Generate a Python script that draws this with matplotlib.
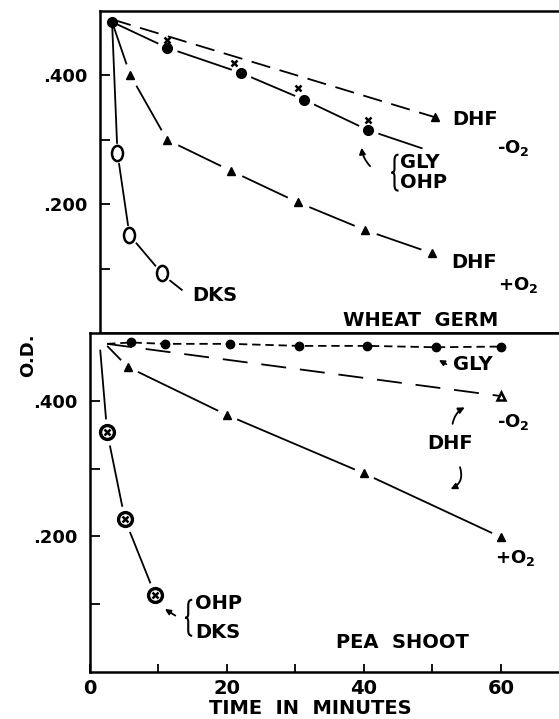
import matplotlib
matplotlib.use("Agg")
import matplotlib.pyplot as plt
import matplotlib.transforms as mtransforms
from matplotlib.path import Path
from matplotlib.patches import FancyArrowPatch, PathPatch

plt.rcParams['font.family'] = 'DejaVu Sans'
plt.rcParams['font.weight'] = 'bold'
plt.rcParams['lines.scale_dashes'] = False

# wheat germ (top panel)
wg_dhf_minus_t = [1.8, 50]
wg_dhf_minus_od = [0.487, 0.335]
wg_gly_t = [10, 20, 29.5, 40]
wg_gly_od = [0.455, 0.419, 0.380, 0.331]
wg_ohp_t = [1.8, 10, 21, 30.5, 40, 48]
wg_ohp_od = [0.483, 0.443, 0.404, 0.362, 0.315, 0.287]
wg_dhf_plus_t = [1.8, 4.5, 10, 19.5, 29.5, 39.5, 49.5]
wg_dhf_plus_od = [0.483, 0.401, 0.300, 0.252, 0.203, 0.160, 0.124]
wg_dks_t = [1.8, 2.6, 4.4, 9.2]
wg_dks_od = [0.483, 0.280, 0.152, 0.093]

# pea shoot (bottom panel)
ps_gly_t = [2.5, 6, 11, 20.5, 30.5, 40.5, 50.5, 60]
ps_gly_od = [0.484, 0.486, 0.484, 0.484, 0.481, 0.481, 0.479, 0.480]
ps_dhf_minus_t = [2.5, 60]
ps_dhf_minus_od = [0.484, 0.407]
ps_dhf_plus_t = [2.6, 5.5, 20, 40, 60]
ps_dhf_plus_od = [0.480, 0.450, 0.379, 0.293, 0.199]
ps_ohp_t = [1.5, 2.5, 5.1, 9.5]
ps_ohp_od = [0.474, 0.354, 0.225, 0.114]

y_ticks = [0.1, 0.2, 0.3, 0.4]
y_labels = ['', '.200', '', '.400']
x_ticks = [0, 10, 20, 30, 40, 50, 60]
x_labels = ['0', '', '20', '', '40', '', '60']

LW = 1.3
FS = 14

# letter-O shaped open marker (taller than wide)
circ = Path.unit_circle()
oval = Path(circ.vertices * [0.72, 1.0], circ.codes)

# curly brace, in pixels around its middle point
brace = Path(
    [(5, 18), (2, 18), (1, 16), (1, 12), (1, 4),
     (1, 1), (0, 0), (-2, 0),
     (0, 0), (1, -1), (1, -4), (1, -12),
     (1, -16), (2, -18), (5, -18)],
    [Path.MOVETO, Path.CURVE4, Path.CURVE4, Path.CURVE4, Path.LINETO,
     Path.CURVE4, Path.CURVE4, Path.CURVE4,
     Path.CURVE4, Path.CURVE4, Path.CURVE4, Path.LINETO,
     Path.CURVE4, Path.CURVE4, Path.CURVE4])


def halo(ax, t, od, size=16):
    # white disc under the marker so the line looks broken around it
    ax.plot(t, od, 'o', ms=size, mfc='white', mec='none', zorder=3)


def add_brace(ax, t, od):
    tr = mtransforms.ScaledTranslation(t, od, ax.transData)
    ax.add_patch(PathPatch(brace, transform=tr, fill=False, lw=1.5, color='k'))


fig = plt.figure(figsize=(5.59, 7.19), dpi=100)
ax1 = fig.add_axes([100 / 559, 386 / 719, 459 / 559, 322 / 719])
ax2 = fig.add_axes([90 / 559, 47 / 719, 469 / 559, 339 / 719])

for ax in (ax1, ax2):
    ax.set_xlim(0, 68.5)
    ax.set_ylim(0, 0.5)
    ax.spines['right'].set_visible(False)
    for s in ax.spines.values():
        s.set_linewidth(1.8)
    ax.set_yticks(y_ticks)
    ax.set_yticklabels(y_labels)
    ax.tick_params(axis='y', direction='in', length=7, width=1.3, pad=9, labelsize=13)
ax1.set_xticks([])
ax2.set_xticks(x_ticks)
ax2.set_xticklabels(x_labels)
ax2.tick_params(axis='x', direction='in', length=6, width=1.3, pad=5, labelsize=FS)

# ---- top panel: wheat germ
ax1.plot(wg_dhf_minus_t, wg_dhf_minus_od, color='k', lw=LW, dashes=(14, 7), zorder=2)
ax1.plot(wg_dhf_minus_t[-1:], wg_dhf_minus_od[-1:], '^', color='k', ms=6, zorder=4)

ax1.plot(wg_ohp_t, wg_ohp_od, color='k', lw=LW, zorder=2)
halo(ax1, wg_ohp_t[1:5], wg_ohp_od[1:5], 15)
ax1.plot(wg_ohp_t[:5], wg_ohp_od[:5], 'o', color='k', ms=7, zorder=4)
ax1.plot(wg_gly_t, wg_gly_od, 'x', color='k', ms=5, mew=1.8, zorder=5)

ax1.plot(wg_dhf_plus_t, wg_dhf_plus_od, color='k', lw=LW, zorder=2)
halo(ax1, wg_dhf_plus_t[1:], wg_dhf_plus_od[1:], 17)
ax1.plot(wg_dhf_plus_t[1:], wg_dhf_plus_od[1:], '^', color='k', ms=6, zorder=4)

ax1.plot(wg_dks_t, wg_dks_od, color='k', lw=LW, zorder=2)
halo(ax1, wg_dks_t[1:], wg_dks_od[1:], 14)
ax1.plot(wg_dks_t[1:], wg_dks_od[1:], marker=oval, ls='none', ms=11,
         mfc='white', mec='k', mew=1.8, zorder=4)
ax1.plot([9.9, 12.2], [0.086, 0.067], color='k', lw=LW)

ax1.text(52.5, 0.331, 'DHF', fontsize=FS, va='center')
ax1.text(59.2, 0.287, '-O$_\\mathbf{2}$', fontsize=FS - 1, va='center')
add_brace(ax1, 43.8, 0.249)
ax1.text(44.8, 0.265, 'GLY', fontsize=FS, va='center')
ax1.text(44.8, 0.233, 'OHP', fontsize=FS, va='center')
ax1.add_patch(FancyArrowPatch((40.6, 0.256), (39.0, 0.292), arrowstyle='-|>',
                              mutation_scale=9, lw=LW, color='k',
                              connectionstyle='arc3,rad=-0.2'))
ax1.text(52.4, 0.109, 'DHF', fontsize=FS, va='center')
ax1.text(59.4, 0.075, '+O$_\\mathbf{2}$', fontsize=FS - 1, va='center')
ax1.text(13.7, 0.059, 'DKS', fontsize=FS, va='center')
ax1.text(47.8, 0.020, 'WHEAT  GERM', fontsize=FS, va='center', ha='center')

# ---- bottom panel: pea shoot
ax2.plot(ps_gly_t, ps_gly_od, color='k', lw=LW, dashes=(6, 3.5), zorder=2)
ax2.plot(ps_gly_t[1:], ps_gly_od[1:], 'o', color='k', ms=6, zorder=4)

ax2.plot(ps_dhf_minus_t, ps_dhf_minus_od, color='k', lw=LW, dashes=(18, 10), zorder=2)
ax2.plot(ps_dhf_minus_t[-1:], ps_dhf_minus_od[-1:], '^', ms=6, mfc='white',
         mec='k', mew=1.8, zorder=4)

ax2.plot(ps_dhf_plus_t, ps_dhf_plus_od, color='k', lw=LW, zorder=2)
halo(ax2, ps_dhf_plus_t[1:], ps_dhf_plus_od[1:], 15)
ax2.plot(ps_dhf_plus_t[1:], ps_dhf_plus_od[1:], '^', color='k', ms=6, zorder=4)

ax2.plot(ps_ohp_t, ps_ohp_od, color='k', lw=LW, zorder=2)
halo(ax2, ps_ohp_t[1:], ps_ohp_od[1:], 19)
ax2.plot(ps_ohp_t[1:], ps_ohp_od[1:], 'o', ms=10, mfc='white', mec='k', mew=2.4, zorder=4)
ax2.plot(ps_ohp_t[1:], ps_ohp_od[1:], 'x', color='k', ms=4.5, mew=1.8, zorder=5)

ax2.text(53.0, 0.453, 'GLY', fontsize=FS, va='center')
ax2.add_patch(FancyArrowPatch((52.4, 0.452), (50.6, 0.462), arrowstyle='-|>',
                              mutation_scale=8, lw=LW, color='k'))
ax2.text(59.4, 0.368, '-O$_\\mathbf{2}$', fontsize=FS - 1, va='center')
ax2.text(49.2, 0.337, 'DHF', fontsize=FS, va='center')
ax2.add_patch(FancyArrowPatch((52.9, 0.362), (55.1, 0.392), arrowstyle='-|>',
                              mutation_scale=9, lw=LW, color='k',
                              connectionstyle='arc3,rad=-0.3'))
ax2.add_patch(FancyArrowPatch((53.9, 0.306), (52.3, 0.268), arrowstyle='-|>',
                              mutation_scale=9, lw=LW, color='k',
                              connectionstyle='arc3,rad=-0.5'))
ax2.text(59.1, 0.168, '+O$_\\mathbf{2}$', fontsize=FS - 1, va='center')
add_brace(ax2, 14.2, 0.080)
ax2.text(15.3, 0.101, 'OHP', fontsize=FS, va='center')
ax2.text(15.3, 0.058, 'DKS', fontsize=FS, va='center')
ax2.add_patch(FancyArrowPatch((12.8, 0.081), (10.6, 0.095), arrowstyle='-|>',
                              mutation_scale=8, lw=LW, color='k'))
ax2.text(45.7, 0.043, 'PEA  SHOOT', fontsize=FS, va='center', ha='center')

fig.text(310 / 559, 1 - 708 / 719, 'TIME  IN  MINUTES', fontsize=FS, ha='center', va='center')
fig.text(28 / 559, 1 - 355 / 719, 'O.D.', fontsize=13, rotation=90, ha='center', va='center')

fig.savefig('out.png', dpi=100)
